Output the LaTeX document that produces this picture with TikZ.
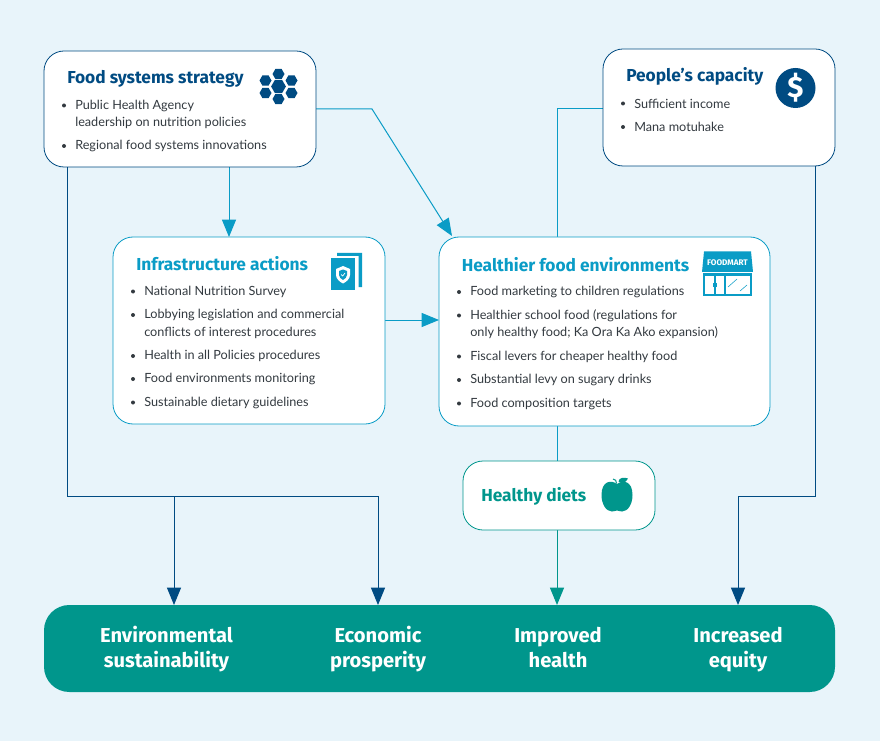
\documentclass[tikz,border=0pt]{standalone}
\usepackage{fontspec}
\setmainfont{Lato}
\newfontfamily\ttl{Fira Sans}
\usetikzlibrary{arrows.meta}
\definecolor{bgc}{HTML}{E8F4FA}
\definecolor{navy}{HTML}{004B82}
\definecolor{cyanb}{HTML}{0A9CC6}
\definecolor{tealb}{HTML}{00968C}
\definecolor{txt}{HTML}{333A40}
\tikzset{
  x=0.75pt,y=-0.75pt,
  boxn/.style={draw=#1,fill=white,line width=0.6pt,inner sep=0pt,rectangle},
  title/.style={font=\ttl\bfseries\fontsize{13}{15}\selectfont,text=#1,anchor=west,inner sep=0pt},
  item/.style={font=\fontsize{9.5}{13}\selectfont,text=txt,anchor=west,inner sep=0pt,align=left},
  bul/.style={circle,fill=txt,inner sep=0pt,minimum size=3pt},
  link/.style={draw=#1,line width=0.75pt},
  arr/.style={draw=#1,line width=0.75pt,-{Triangle[length=13pt,width=10.5pt,fill=#1]}},
  outc/.style={font=\ttl\bfseries\fontsize{15.1}{18.7}\selectfont,text=white,align=center,inner sep=0pt},
}
\newcommand{\itm}[4]{\node[bul] (#1b) at (#2-11,#3) {}; \node[item] (#1) at (#2,#3) {#4};}
\newcommand{\rbox}[7]{\path[boxn=#6,rounded corners=#7] (#2,#3) rectangle (#4,#5);
  \coordinate (#1nw) at (#2,#3);\coordinate (#1se) at (#4,#5);}
\begin{document}
\begin{tikzpicture}
\useasboundingbox (0,0) rectangle (880,741);
\fill[bgc] (0,0) rectangle (880,741);

% junction / free-end coordinates
\coordinate (fsR) at (316,109);
\coordinate (fsK) at (372,109);
\coordinate (hfT) at (452,236);
\coordinate (pcL) at (603,109);
\coordinate (pcK) at (557,109);
\coordinate (hfU) at (557,237);
\coordinate (fsD) at (67,167);
\coordinate (fsK1) at (67,496);
\coordinate (brA) at (174,496);
\coordinate (brB) at (378,496);
\coordinate (outA) at (174,605);
\coordinate (outB) at (378,605);
\coordinate (pcD) at (815,166);
\coordinate (pcK1) at (815,496);
\coordinate (brC) at (738,496);
\coordinate (outD) at (738,605);
\coordinate (outC) at (557,605);
\coordinate (fsB) at (229,167);
\coordinate (iaT) at (229,237);
\coordinate (iaR) at (385,320);
\coordinate (hfL) at (439,320);
\coordinate (hfB) at (557,426);
\coordinate (hdT) at (557,461);
\coordinate (hdB) at (557,530);

% connectors
\draw[link=navy] (fsD) -- (fsK1) -- (brA);
\draw[arr=navy] (brA) -- (outA);
\draw[arr=navy] (brA) -- (brB) -- (outB);
\draw[arr=navy] (pcD) -- (pcK1) -- (brC) -- (outD);
\draw[arr=cyanb] (fsB) -- (iaT);
\draw[arr=cyanb] (fsR) -- (fsK) -- (hfT);
\draw[link=cyanb] (pcL) -- (pcK) -- (hfU);
\draw[arr=cyanb] (iaR) -- (hfL);
\draw[link=cyanb] (hfB) -- (hdT);
\draw[arr=tealb] (hdB) -- (outC);

% boxes
\rbox{fs}{44}{51}{316}{167}{navy}{15pt}
\rbox{pc}{603}{49}{835}{166}{navy}{15pt}
\rbox{ia}{113}{237}{385}{424}{cyanb}{15pt}
\rbox{hf}{439}{237}{770}{426}{cyanb}{15pt}
\rbox{hd}{463}{461}{655}{530}{tealb}{15pt}
\fill[tealb,rounded corners=19pt] (44,605) rectangle (835,692);

% Food systems strategy
\node[title=navy] (fst) at (67,79) {Food systems strategy};
\itm{fs1}{75}{105.5}{Public Health Agency}
\node[item] (fs1a) at (75,123) {leadership on nutrition policies};
\itm{fs2}{75}{146}{Regional food systems innovations}
% hexagon icon
\foreach \cx/\cy/\r in {278.5/74/6,278.5/99/6,265.5/80.5/6,291.5/80.5/6,265.5/93/6,291.5/93/6,278.5/86.5/7.4}{
  \fill[navy] (\cx-\r,\cy) -- (\cx-\r/2,\cy-\r*0.866) -- (\cx+\r/2,\cy-\r*0.866) -- (\cx+\r,\cy) -- (\cx+\r/2,\cy+\r*0.866) -- (\cx-\r/2,\cy+\r*0.866) -- cycle;
}

% People's capacity
\node[title=navy] (pct) at (626,76) {People’s capacity};
\itm{pc1}{634}{103.5}{Sufficient income}
\itm{pc2}{634}{127}{Mana motuhake}
\fill[navy] (795.5,88) circle[radius=20];
\node[font=\ttl\bfseries\fontsize{22}{22}\selectfont,text=white,inner sep=0pt] (dollar) at (795.5,88) {\$};

% Infrastructure actions
\node[title=cyanb] (iat) at (136,263.5) {Infrastructure actions};
\itm{ia1}{144}{291.5}{National Nutrition Survey}
\itm{ia2}{144}{315}{Lobbying legislation and commercial}
\node[item] (ia2a) at (144,332.5) {conflicts of interest procedures};
\itm{ia3}{144}{356}{Health in all Policies procedures}
\itm{ia4}{144}{379}{Food environments monitoring}
\itm{ia5}{144}{402.5}{Sustainable dietary guidelines}
% document icon
\fill[cyanb] (337,253) -- (362,253) -- (362,287) -- (358.5,287) -- (358.5,256) -- (337,256) -- cycle;
\fill[cyanb] (331,258.5) rectangle (355,290);
\fill[white] (343,266) -- (350,269) -- (350,275) .. controls (350,279) and (346,282) .. (343,283.5) .. controls (340,282) and (336,279) .. (336,275) -- (336,269) -- cycle;
\fill[cyanb] (343,269.5) -- (347,271) -- (347,275) .. controls (347,277) and (345,279) .. (343,280) .. controls (341,279) and (339,277) .. (339,275) -- (339,271) -- cycle;
\draw[white,line width=0.5pt] (341,274.5) -- (342.7,276) -- (345,273);

% Healthier food environments
\node[title=cyanb] (hft) at (461.5,264.5) {Healthier food environments};
\itm{hf1}{470}{292}{Food marketing to children regulations}
\itm{hf2}{470}{315.5}{Healthier school food (regulations for}
\node[item] (hf2a) at (470,333) {only healthy food; Ka Ora Ka Ako expansion)};
\itm{hf3}{470}{356.5}{Fiscal levers for cheaper healthy food}
\itm{hf4}{470}{380}{Substantial levy on sugary drinks}
\itm{hf5}{470}{403.5}{Food composition targets}
% shop icon
\fill[cyanb] (704,251.5) -- (751,251.5) -- (753,272) -- (702,272) -- cycle;
\node[font=\ttl\bfseries\fontsize{6.1}{6}\selectfont,text=white,inner sep=0pt] (shop) at (727.5,262.5) {FOODMART};
\fill[cyanb] (703,273) rectangle (751.5,295.5);
\fill[white] (705,276.5) rectangle (714,293.5);
\fill[white] (715.5,276.5) rectangle (723.5,293.5);
\fill[white] (725.5,276.5) rectangle (749.5,293.5);
\fill[cyanb] (712.5,283) rectangle (713.3,287);
\fill[cyanb] (716.2,283) rectangle (717,287);
\draw[cyanb,line width=0.4pt] (728,287) -- (737,279) (740,291) -- (747,285);

% Healthy diets
\node[title=tealb] (hdt) at (481,496.5) {Healthy diets};
\fill[tealb] (617,484) .. controls (611,479.5) and (601.5,481) .. (601.5,495)
  .. controls (601.5,504) and (606,511.5) .. (612,511.5) .. controls (614,511.5) and (616,510.5) .. (617,510.5)
  .. controls (618,510.5) and (620,511.5) .. (622,511.5) .. controls (628,511.5) and (632.5,504) .. (632.5,495)
  .. controls (632.5,481) and (623,479.5) .. (617,484) -- cycle;
\fill[tealb] (618.5,481.5) .. controls (619,477.5) and (624,477) .. (628,478.5) .. controls (626,483) and (621,484) .. (618.5,481.5) -- cycle;
\draw[tealb,line width=0.8pt] (616.5,483.5) .. controls (616.5,481) and (615.5,479) .. (613,479);

% Outcomes band
\node[outc] (o1) at (166.5,650) {\strut Environmental\\\strut sustainability};
\node[outc] (o2) at (378,650) {\strut Economic\\\strut prosperity};
\node[outc] (o3) at (558,650) {\strut Improved\\\strut health};
\node[outc] (o4) at (738,650) {\strut Increased\\\strut equity};
\end{tikzpicture}
\end{document}
